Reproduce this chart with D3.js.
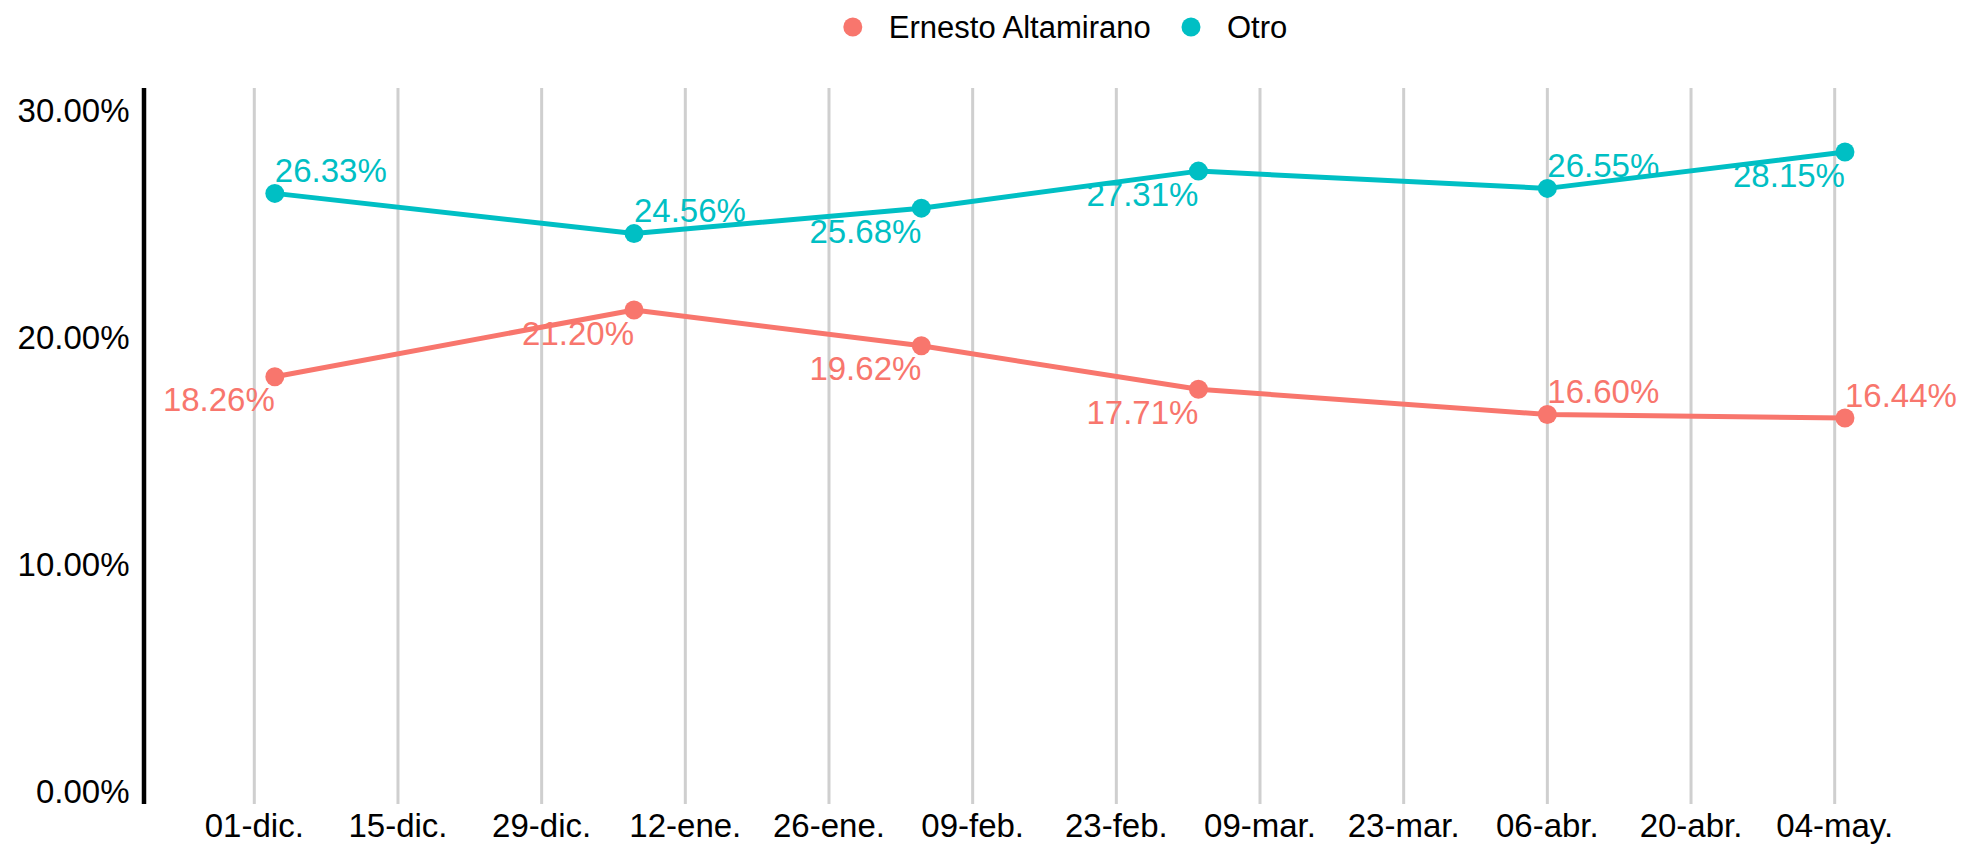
<!DOCTYPE html>
<html>
<head>
<meta charset="utf-8">
<script src="https://cdn.jsdelivr.net/npm/d3@7"></script>
<style>
  html, body { margin: 0; padding: 0; background: #fff; }
  svg text { font-family: "Liberation Sans", Arial, Helvetica, sans-serif; }
</style>
</head>
<body>
<svg id="chart" width="1964" height="846"></svg>
<script>
// survey dates and shares (%)
const dates = ['2022-12-03', '2023-01-07', '2023-02-04', '2023-03-03', '2023-04-06', '2023-05-05'];
const seriesNames = ['Ernesto Altamirano', 'Otro'];
const ernesto = [18.26, 21.20, 19.62, 17.71, 16.60, 16.44];
const otro = [26.33, 24.56, 25.68, 27.31, 26.55, 28.15];
// which side of the point each value label sits on
const ernestoSide = ['below', 'below', 'below', 'below', 'above', 'above'];
const otroSide = ['above', 'above', 'below', 'below', 'above', 'below'];
// axis ticks
const tickDates = ['2022-12-01', '2022-12-15', '2022-12-29', '2023-01-12', '2023-01-26', '2023-02-09',
  '2023-02-23', '2023-03-09', '2023-03-23', '2023-04-06', '2023-04-20', '2023-05-04'];
const yTicks = [0, 10, 20, 30];

const colors = ['#F8766D', '#00BFC4'];
const W = 1964, H = 846;
const panelTop = 88, panelBottom = 804, axisX = 144;
const fontSize = 33;

const svg = d3.select('#chart');
svg.append('rect').attr('width', W).attr('height', H).attr('fill', '#fff');

const parse = d3.timeParse('%Y-%m-%d');
const es = d3.timeFormatLocale({
  dateTime: '%A, %e de %B de %Y, %X', date: '%d/%m/%Y', time: '%H:%M:%S', periods: ['AM', 'PM'],
  days: ['domingo', 'lunes', 'martes', 'miércoles', 'jueves', 'viernes', 'sábado'],
  shortDays: ['dom', 'lun', 'mar', 'mié', 'jue', 'vie', 'sáb'],
  months: ['enero', 'febrero', 'marzo', 'abril', 'mayo', 'junio', 'julio', 'agosto', 'septiembre', 'octubre', 'noviembre', 'diciembre'],
  shortMonths: ['ene', 'feb', 'mar', 'abr', 'may', 'jun', 'jul', 'ago', 'sep', 'oct', 'nov', 'dic']
});
const fmtTick = es.format('%d-%b.');

const ticks = tickDates.map(parse);
const x = d3.scaleTime()
  .domain([ticks[0], ticks[ticks.length - 1]])
  .range([254.3, 1834.7]);
const y = d3.scaleLinear().domain([0, 30]).range([791.6, 110]);

// vertical grid
svg.append('g').selectAll('line').data(ticks).join('line')
  .attr('x1', d => x(d)).attr('x2', d => x(d))
  .attr('y1', panelTop).attr('y2', panelBottom)
  .attr('stroke', '#cfcfcf').attr('stroke-width', 3);

// y axis line
svg.append('line')
  .attr('x1', axisX).attr('x2', axisX).attr('y1', panelTop).attr('y2', panelBottom)
  .attr('stroke', '#000').attr('stroke-width', 4.5);

// y tick labels
svg.append('g').selectAll('text').data(yTicks).join('text')
  .attr('x', 129.5).attr('y', d => y(d)).attr('dy', '0.36em')
  .attr('text-anchor', 'end').attr('font-size', fontSize).attr('fill', '#000')
  .text(d => d.toFixed(2) + '%');

// x tick labels
svg.append('g').selectAll('text').data(ticks).join('text')
  .attr('x', d => x(d)).attr('y', 837)
  .attr('text-anchor', 'middle').attr('font-size', fontSize).attr('fill', '#000')
  .text(d => fmtTick(d));

const series = [
  { name: seriesNames[0], values: ernesto, side: ernestoSide, color: colors[0] },
  { name: seriesNames[1], values: otro, side: otroSide, color: colors[1] }
];

const line = d3.line().x(d => x(d.date)).y(d => y(d.value));

series.forEach(s => {
  const pts = s.values.map((v, i) => ({ date: parse(dates[i]), value: v, side: s.side[i] }));
  const g = svg.append('g');
  g.append('path').datum(pts).attr('d', line)
    .attr('fill', 'none').attr('stroke', s.color).attr('stroke-width', 5)
    .attr('stroke-linejoin', 'round');
  g.selectAll('circle').data(pts).join('circle')
    .attr('cx', d => x(d.date)).attr('cy', d => y(d.value)).attr('r', 9.5)
    .attr('fill', s.color);
  g.selectAll('text').data(pts).join('text')
    .attr('x', d => x(d.date)).attr('y', d => y(d.value))
    .attr('dy', d => d.side === 'above' ? '-0.35em' : '1.05em')
    .attr('text-anchor', d => d.side === 'above' ? 'start' : 'end')
    .attr('font-size', fontSize).attr('fill', s.color)
    .text(d => d.value.toFixed(2) + '%');
});

// legend
const legendX = [852.8, 1191];
const lg = svg.append('g');
series.forEach((s, i) => {
  lg.append('circle').attr('cx', legendX[i]).attr('cy', 27).attr('r', 9.5).attr('fill', s.color);
  lg.append('text').attr('x', legendX[i] + 36).attr('y', 27).attr('dy', '0.36em')
    .attr('font-size', 31).attr('fill', '#000').text(s.name);
});
</script>
</body>
</html>
